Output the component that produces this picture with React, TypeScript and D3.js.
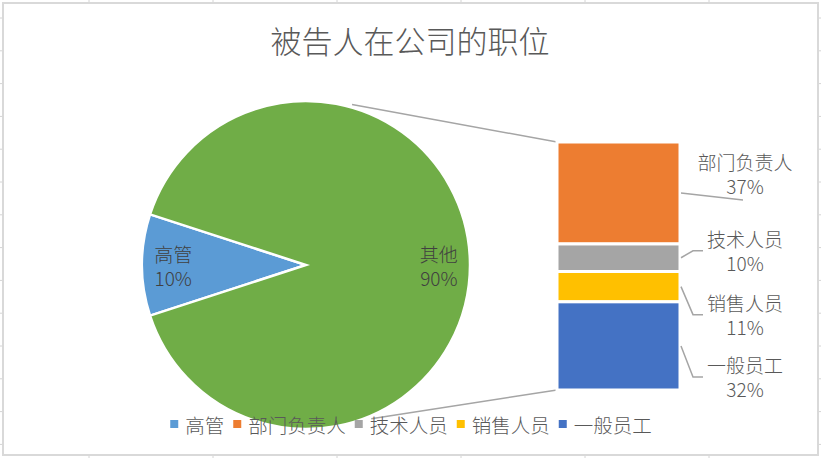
import React from 'react'
import * as d3 from 'd3'

// ---- data ----
const title = '被告人在公司的职位'
const pieNames = ['高管', '其他']
const pieValues = [10, 90]
const barNames = ['部门负责人', '技术人员', '销售人员', '一般员工']
const barValues = [37, 10, 11, 32]
const legendNames = ['高管', '部门负责人', '技术人员', '销售人员', '一般员工']

const pieColors = ['#5B9BD5', '#70AD47']
const barColors = ['#ED7D31', '#A5A5A5', '#FFC000', '#4472C4']
const legendColors = ['#5B9BD5', '#ED7D31', '#A5A5A5', '#FFC000', '#4472C4']

// label offsets from the segment centre (layout only)
const labelShift = [-19, -7, 28, 31]

const W = 821
const H = 458
const FONT = '"Noto Sans CJK SC", "Microsoft YaHei", sans-serif'
const TEXT = '#595959'

const App: React.FC = () => {
  const cx = 306
  const cy = 265
  const r = 164
  const deg = Math.PI / 180

  // pie: 高管 slice centred on the left side
  const pie = d3.pie<number>().sort(null)
    .startAngle(252 * deg)
    .endAngle(252 * deg + 2 * Math.PI)
  const arcs = pie(pieValues)
  const arc = d3.arc<d3.PieArcDatum<number>>().innerRadius(0).outerRadius(r)
  const labelArc = d3.arc<d3.PieArcDatum<number>>().innerRadius(r * 0.81).outerRadius(r * 0.81)

  // bar of pie
  const barX = 557
  const barW = 123
  const barTop = 142
  const barBottom = 390
  const total = d3.sum(barValues)
  const y = d3.scaleLinear().domain([0, total]).range([barTop, barBottom])
  const cum = d3.cumsum(barValues)
  const segs = barValues.map((v, i) => ({
    name: barNames[i],
    value: v,
    y0: y(cum[i] - v),
    y1: y(cum[i]),
    color: barColors[i]
  }))

  // connector lines from pie edge to bar corners
  const conn = [
    { a: 16 * deg, ty: y(0) },
    { a: 157 * deg, ty: y(total) }
  ].map(c => ({
    x1: cx + (r + 3) * Math.sin(c.a),
    y1: cy - (r + 3) * Math.cos(c.a),
    x2: barX,
    y2: c.ty
  }))

  const fmt = (v: number) => `${Math.round((v / d3.sum(pieValues)) * 100)}%`
  const labelX = 745
  const fs = 19

  // legend layout
  const lfs = 19.5
  const sq = 8
  const items: { x: number; name: string; color: string }[] = []
  let acc = 0
  legendNames.forEach((n, i) => {
    items.push({ x: acc, name: n, color: legendColors[i] })
    acc += sq + 7 + n.length * lfs + 9
  })
  const legendWidth = acc - 9
  const legendX0 = 411 - legendWidth / 2
  const legendY = 424

  const gridX = d3.range(89, W, 124)
  const gridY = d3.range(18, H, 32.8)

  return (
    <svg width={W} height={H} style={{ position: 'absolute', left: 0, top: 0, background: '#fff' }}
      fontFamily={FONT}>
      {/* spreadsheet cells behind the chart */}
      {gridX.map(gx => (
        <line key={'gx' + gx} x1={gx} x2={gx} y1={0} y2={H} stroke="#D4D4D4" />
      ))}
      {gridY.map(gy => (
        <line key={'gy' + gy} x1={0} x2={W} y1={gy} y2={gy} stroke="#D4D4D4" />
      ))}
      <rect x={3} y={3} width={815} height={452} fill="#fff" stroke="#D9D9D9" strokeWidth={2} />

      <text x={410} y={39} textAnchor="middle" dominantBaseline="central"
        fontSize={31} fontWeight={300} fill={TEXT}>{title}</text>

      {/* connectors */}
      {conn.map((c, i) => (
        <line key={i} x1={c.x1} y1={c.y1} x2={c.x2} y2={c.y2} stroke="#A5A5A5" strokeWidth={1.5} />
      ))}

      {/* pie */}
      <g transform={`translate(${cx},${cy})`}>
        {arcs.map((a, i) => (
          <path key={i} d={arc(a) || ''} fill={pieColors[i]} stroke="#fff" strokeWidth={2.5} />
        ))}
        {arcs.map((a, i) => {
          const [lx, ly] = labelArc.centroid(a)
          return (
            <g key={'l' + i} fill="#404040" fontSize={fs} fontWeight={300} textAnchor="middle">
              <text x={lx} y={ly - 12} dominantBaseline="central">{pieNames[i]}</text>
              <text x={lx} y={ly + 12} dominantBaseline="central">{fmt(pieValues[i])}</text>
            </g>
          )
        })}
      </g>

      {/* bar */}
      {segs.map((s, i) => (
        <rect key={i} x={barX} y={s.y0} width={barW} height={s.y1 - s.y0}
          fill={s.color} stroke="#fff" strokeWidth={3} />
      ))}

      {/* bar labels + leaders */}
      {segs.map((s, i) => {
        const mid = (s.y0 + s.y1) / 2
        const ly = mid + labelShift[i]
        const sx = barX + barW + 1
        const leader = i === 0
          ? `M${sx},${mid} L${labelX - 2},${ly + 26}`
          : `M${sx},${mid} L${sx + 12},${ly} L${sx + 22},${ly}`
        return (
          <g key={'bl' + i}>
            <path d={leader} fill="none" stroke="#A5A5A5" strokeWidth={1.5} />
            <g fill={TEXT} fontSize={fs} fontWeight={300} textAnchor="middle">
              <text x={labelX} y={ly - 12} dominantBaseline="central">{s.name}</text>
              <text x={labelX} y={ly + 12} dominantBaseline="central">{fmt(s.value)}</text>
            </g>
          </g>
        )
      })}

      {/* legend */}
      <g transform={`translate(${legendX0},${legendY})`}>
        {items.map((it, i) => (
          <g key={i} transform={`translate(${it.x},0)`}>
            <rect x={0} y={-sq / 2} width={sq} height={sq} fill={it.color} />
            <text x={sq + 7} y={0} dominantBaseline="central" fontSize={lfs}
              fontWeight={300} fill={TEXT}>{it.name}</text>
          </g>
        ))}
      </g>
    </svg>
  )
}

export default App
